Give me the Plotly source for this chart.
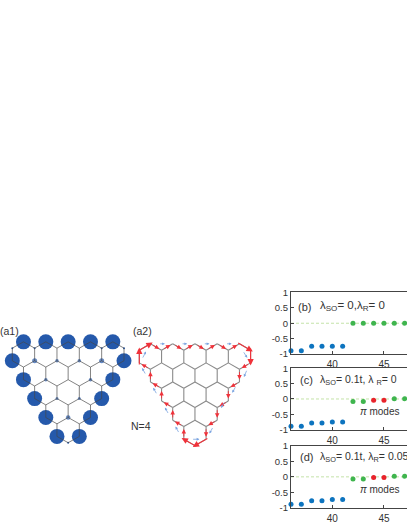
import plotly.graph_objects as go

W, H = 407, 527
FONT = "Liberation Sans"

# --- lattice: hexagon rows of the N=4 triangular flake (lattice units)
hex_rows = [5, 4, 3, 2, 1]

# (a1) edge-state amplitude per site: i, j, marker diameter
big_i = [1, 3, 5, 7, 9, 0, 10, 1, 9, 2, 8, 3, 7, 4, 6]
big_j = [0, 0, 0, 0, 0, 3, 3, 6, 6, 9, 9, 12, 12, 15, 15]
mid_i = [2, 4, 6, 8, 3, 7, 4, 6, 5]
mid_j = [3, 3, 3, 3, 6, 6, 9, 9, 12]
mid_size = [5, 3.5, 3.5, 5, 3.5, 3.5, 3, 3, 4.5]
tiny_i = [0, 10, 5, 2, 8]
tiny_j = [1, 1, 16, 1, 1]

# (a2) boundary path, clockwise
path_i = [0, 1, 2, 3, 4, 5, 6, 7, 8, 9, 10, 10, 9, 9, 8, 8, 7, 7, 6, 6, 5, 4, 4, 3, 3, 2, 2, 1, 1, 0, 0]
path_j = [1, 0, 1, 0, 1, 0, 1, 0, 1, 0, 1, 3, 4, 6, 7, 9, 10, 12, 13, 15, 16, 15, 13, 12, 10, 9, 7, 6, 4, 3, 1]
long_bonds = [0, 9, 10, 19, 20, 29]

# (a2) blue spin arrows: tail -> head
blue_x0 = [1.75, 3.75, 5.75, 7.75, 4.7, 9.7, 8.7, 7.7, 6.65, 0.25, 0.6, 1.6, 2.65, 3.6, 9.3]
blue_y0 = [0, 0, 0, 0, 15, 4, 6.6, 9, 13, 2.4, 4.9, 8, 11.1, 14.1, 1.1]
blue_x1 = [2.3, 4.3, 6.3, 8.3, 5.4, 9.4, 8.35, 7.35, 6.3, 0.6, 0.25, 1.25, 2.3, 3.25, 9.7]
blue_y1 = [0, 0, 0, 0, 15, 5.2, 7.7, 10.1, 14.1, 1.2, 3.8, 6.9, 10, 13, 2.2]

# (b), (c), (d) spectra
states_blue = [36, 37, 38, 39, 40, 41]
b_blue = [-0.89, -0.89, -0.75, -0.75, -0.75, -0.75]
c_blue = [-0.89, -0.89, -0.78, -0.78, -0.75, -0.75]
d_blue = [-0.89, -0.89, -0.78, -0.78, -0.74, -0.74]
b_green_x = [42, 43, 44, 45, 46, 47]
b_green = [0, 0, 0, 0, 0, 0]
cd_green_x = [42, 43, 46, 47]
c_green = [-0.08, -0.08, 0.01, 0.01]
d_green = [-0.07, -0.07, 0.02, 0.02]
red_x = [44, 45]
c_red = [-0.04, -0.04]
d_red = [-0.02, -0.02]
y_ticks = [-1, -0.5, 0, 0.5, 1]
y_labels = ["-1", "-0.5", "0", "0.5", "1"]
x_ticks = [40, 45]

BLUE_A = "#2559ab"
BLUE_D = "#0d74bf"
GREEN = "#3fb54e"
RED = "#e8232b"
GRID = "#c4e3a8"


def bonds():
    seen, xs, ys = set(), [], []
    offs = [(0, -2), (1, -1), (1, 1), (0, 2), (-1, 1), (-1, -1)]
    for r, n in enumerate(hex_rows):
        for k in range(n):
            cx, cy = 1 + r + 2 * k, 2 + 3 * r
            for a in range(6):
                p = (cx + offs[a][0], cy + offs[a][1])
                q = (cx + offs[(a + 1) % 6][0], cy + offs[(a + 1) % 6][1])
                key = tuple(sorted((p, q)))
                if key not in seen:
                    seen.add(key)
                    xs += [p[0], q[0], None]
                    ys += [p[1], q[1], None]
    return xs, ys


bx, by = bonds()
fig = go.Figure()

# a1
fig.add_trace(go.Scatter(x=big_i, y=big_j, mode="markers", xaxis="x", yaxis="y",
                         marker=dict(size=15, color=BLUE_A, line=dict(width=0))))
fig.add_trace(go.Scatter(x=mid_i, y=mid_j, mode="markers", xaxis="x", yaxis="y",
                         marker=dict(size=mid_size, color=BLUE_A, line=dict(width=0))))
fig.add_trace(go.Scatter(x=tiny_i, y=tiny_j, mode="markers", xaxis="x", yaxis="y",
                         marker=dict(size=2, color=BLUE_A, line=dict(width=0))))
fig.add_trace(go.Scatter(x=bx, y=by, mode="lines", xaxis="x", yaxis="y",
                         line=dict(color="rgba(70,70,70,0.75)", width=0.9)))
# a2
fig.add_trace(go.Scatter(x=bx, y=by, mode="lines", xaxis="x2", yaxis="y2",
                         line=dict(color="#8a8a8a", width=1.1)))


def box(x0, y0, x1, y1):
    return [x0 / W, x1 / W], [1 - y1 / H, 1 - y0 / H]


def lat_axes(suffix, x0px, ux, y0px, uy, bx0, bx1, by0, by1):
    dx, dy = box(bx0, by0, bx1, by1)
    fig.layout["xaxis" + suffix] = dict(domain=dx, range=[(bx0 - x0px) / ux, (bx1 - x0px) / ux],
                                        visible=False, anchor="y" + suffix)
    fig.layout["yaxis" + suffix] = dict(domain=dy, range=[(by1 - y0px) / uy, (by0 - y0px) / uy],
                                        visible=False, anchor="x" + suffix)


lat_axes("", 12.3, 11.17, 343, 6.44, 0, 132, 325, 460)
lat_axes("2", 139.3, 11.13, 345, 6.5, 132, 262, 325, 460)

panels = [
    ("3", 292.5, 355.5, states_blue, b_blue, b_green_x, b_green, None, None),
    ("4", 370, 432.7, states_blue, c_blue, cd_green_x, c_green, red_x, c_red),
    ("5", 449.5, 512.3, states_blue, d_blue, cd_green_x, d_green, red_x, d_red),
]
XL, XR = 291, 407
for s, top, bot, xb, yb, xg, yg, xr, yr in panels:
    dx, dy = box(XL, top, XR, bot)
    fig.layout["xaxis" + s] = dict(domain=dx, range=[36, 36 + (XR - XL) / 10.33], anchor="y" + s,
                                   tickvals=x_ticks, ticks="inside", ticklen=3, mirror=True,
                                   showline=True, linecolor="#444", linewidth=1.2, showgrid=False,
                                   zeroline=False, tickcolor="#444", ticklabelstandoff=1,
                                   tickfont=dict(family=FONT, size=10, color="#333"))
    fig.layout["yaxis" + s] = dict(domain=dy, range=[-1, 1], anchor="x" + s, tickvals=y_ticks,
                                   ticktext=y_labels, ticks="inside", ticklen=3, showline=True,
                                   linecolor="#444", linewidth=1.2, showgrid=False, zeroline=False,
                                   tickcolor="#444", tickfont=dict(family=FONT, size=9.5, color="#333"))
    fig.add_trace(go.Scatter(x=[36, 47], y=[0, 0], mode="lines", xaxis="x" + s, yaxis="y" + s,
                             line=dict(color=GRID, width=1, dash="3px,2px")))
    fig.add_trace(go.Scatter(x=xb, y=yb, mode="markers", xaxis="x" + s, yaxis="y" + s, cliponaxis=False,
                             marker=dict(size=5, color=BLUE_D, line=dict(width=0))))
    fig.add_trace(go.Scatter(x=xg, y=yg, mode="markers", xaxis="x" + s, yaxis="y" + s, cliponaxis=False,
                             marker=dict(size=5, color=GREEN, line=dict(width=0))))
    if xr:
        fig.add_trace(go.Scatter(x=xr, y=yr, mode="markers", xaxis="x" + s, yaxis="y" + s, cliponaxis=False,
                                 marker=dict(size=5, color=RED, line=dict(width=0))))

ann = []


def arrow(x0, y0, x1, y1, color, size, width):
    ann.append(dict(x=x1, y=y1, ax=x0, ay=y0, xref="x2", yref="y2", axref="x2", ayref="y2", text="",
                    showarrow=True, arrowhead=2, arrowsize=size, arrowwidth=width, arrowcolor=color,
                    standoff=0, startstandoff=0))


for n in range(len(path_i) - 1):
    a, b = (path_i[n], path_j[n]), (path_i[n + 1], path_j[n + 1])
    if n in long_bonds:
        f0, f1, sz, wd = -0.25, 1.2, 1.15, 1.1
    else:
        f0, f1, sz, wd = 0.1, 0.8, 1.0, 0.9
    arrow(a[0] + (b[0] - a[0]) * f0, a[1] + (b[1] - a[1]) * f0,
          a[0] + (b[0] - a[0]) * f1, a[1] + (b[1] - a[1]) * f1, "#f0323a", sz, wd)
for x0, y0, x1, y1 in zip(blue_x0, blue_y0, blue_x1, blue_y1):
    arrow(x0, y0, x1, y1, "#7ba4e0", 0.7, 0.8)


def label(text, px, py, size=10, anchor="left", color="#333"):
    ann.append(dict(x=px / W, y=1 - py / H, xref="paper", yref="paper", text=text, showarrow=False,
                    xanchor=anchor, yanchor="middle", font=dict(family=FONT, size=size, color=color)))


label("(a1)", -2, 332, 10.5)
label("(a2)", 131, 332, 10.5)
label("N=4", 129, 429, 10.5)
label("(b)", 296, 307, 11)
label("λ<sub>SO</sub>= 0,λ<sub>R</sub>= 0", 318, 306, 11.5)
label("(c)", 298, 382, 11)
label("λ<sub>SO</sub>= 0.1t, λ <sub>R</sub>= 0", 318, 382, 10.5)
label("(d)", 298, 461, 11)
label("λ<sub>SO</sub>= 0.1t, λ<sub>R</sub>= 0.05", 318, 461, 10.5)
label("<i>π</i> modes", 380, 414, 10, "center")
label("<i>π</i> modes", 380, 494, 10, "center")

fig.update_layout(width=W, height=H, margin=dict(l=0, r=0, t=0, b=0), showlegend=False,
                  paper_bgcolor="white", plot_bgcolor="white", annotations=ann)
fig.write_html("out.html", config={"displayModeBar": False},
               post_script="document.body.style.margin='0';")
